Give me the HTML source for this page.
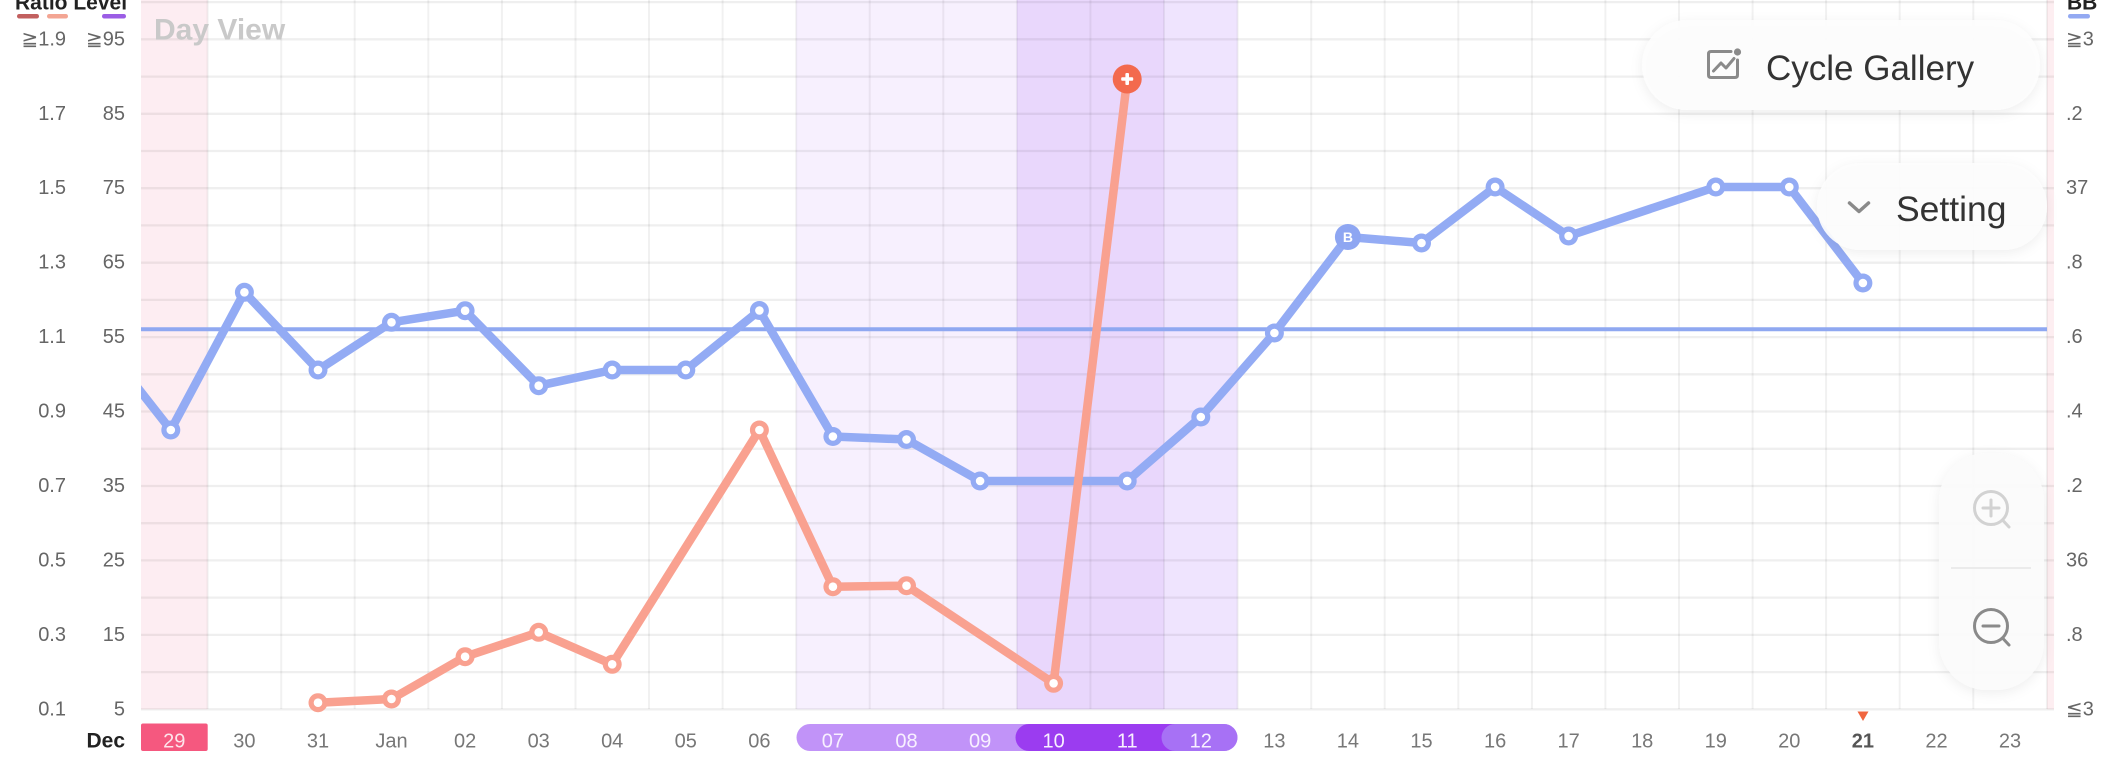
<!DOCTYPE html>
<html>
<head>
<meta charset="utf-8">
<style>
  html,body{margin:0;padding:0;background:#fff;}
  body{width:2101px;height:757px;overflow:hidden;}
  svg{display:block;}
  text{font-family:"Liberation Sans","DejaVu Sans",sans-serif;}
</style>
</head>
<body>
<svg width="2101" height="757" viewBox="0 0 2101 757" xmlns="http://www.w3.org/2000/svg">
  <defs>
    <clipPath id="plot"><rect x="141" y="0" width="1906" height="757"/></clipPath>
    <filter id="sh" x="-20%" y="-40%" width="140%" height="180%">
      <feDropShadow dx="0" dy="3" stdDeviation="6" flood-color="#000" flood-opacity="0.07"/>
    </filter>
  </defs>

  <rect x="0" y="0" width="2101" height="757" fill="#ffffff"/>

  <!-- bands -->
  <rect x="141" y="0" width="66.6" height="709.3" fill="#fdedf2"/>
  <rect x="2047" y="0" width="7" height="709.3" fill="#fdeef1"/>
  <rect x="796.2" y="0" width="220.7" height="709.3" fill="#f7f0fe"/>
  <rect x="1016.9" y="0" width="147.1" height="709.3" fill="#e9d7fc"/>
  <rect x="1164" y="0" width="73.6" height="709.3" fill="#efe4fe"/>

  <!-- vertical gridlines -->
  <g stroke="rgba(0,0,0,0.055)" stroke-width="2">
    <line x1="207.6" y1="0" x2="207.6" y2="709"/>
    <line x1="281.2" y1="0" x2="281.2" y2="709"/>
    <line x1="354.7" y1="0" x2="354.7" y2="709"/>
    <line x1="428.3" y1="0" x2="428.3" y2="709"/>
    <line x1="501.9" y1="0" x2="501.9" y2="709"/>
    <line x1="575.5" y1="0" x2="575.5" y2="709"/>
    <line x1="649.0" y1="0" x2="649.0" y2="709"/>
    <line x1="722.6" y1="0" x2="722.6" y2="709"/>
    <line x1="796.2" y1="0" x2="796.2" y2="709"/>
    <line x1="869.7" y1="0" x2="869.7" y2="709"/>
    <line x1="943.3" y1="0" x2="943.3" y2="709"/>
    <line x1="1016.9" y1="0" x2="1016.9" y2="709"/>
    <line x1="1090.4" y1="0" x2="1090.4" y2="709"/>
    <line x1="1164.0" y1="0" x2="1164.0" y2="709"/>
    <line x1="1237.6" y1="0" x2="1237.6" y2="709"/>
    <line x1="1311.2" y1="0" x2="1311.2" y2="709"/>
    <line x1="1384.7" y1="0" x2="1384.7" y2="709"/>
    <line x1="1458.3" y1="0" x2="1458.3" y2="709"/>
    <line x1="1531.9" y1="0" x2="1531.9" y2="709"/>
    <line x1="1605.4" y1="0" x2="1605.4" y2="709"/>
    <line x1="1679.0" y1="0" x2="1679.0" y2="709"/>
    <line x1="1752.6" y1="0" x2="1752.6" y2="709"/>
    <line x1="1826.1" y1="0" x2="1826.1" y2="709"/>
    <line x1="1899.7" y1="0" x2="1899.7" y2="709"/>
    <line x1="1973.3" y1="0" x2="1973.3" y2="709"/>
    <line x1="2046.9" y1="0" x2="2046.9" y2="709"/>
  </g>

  <!-- horizontal gridlines -->
  <g stroke="rgba(0,0,0,0.062)" stroke-width="2.3">
    <line x1="141" y1="709.3" x2="2054" y2="709.3"/>
    <line x1="141" y1="672.1" x2="2054" y2="672.1"/>
    <line x1="141" y1="634.9" x2="2054" y2="634.9"/>
    <line x1="141" y1="597.6" x2="2054" y2="597.6"/>
    <line x1="141" y1="560.4" x2="2054" y2="560.4"/>
    <line x1="141" y1="523.2" x2="2054" y2="523.2"/>
    <line x1="141" y1="486.0" x2="2054" y2="486.0"/>
    <line x1="141" y1="448.8" x2="2054" y2="448.8"/>
    <line x1="141" y1="411.5" x2="2054" y2="411.5"/>
    <line x1="141" y1="374.3" x2="2054" y2="374.3"/>
    <line x1="141" y1="337.1" x2="2054" y2="337.1"/>
    <line x1="141" y1="299.9" x2="2054" y2="299.9"/>
    <line x1="141" y1="262.7" x2="2054" y2="262.7"/>
    <line x1="141" y1="225.4" x2="2054" y2="225.4"/>
    <line x1="141" y1="188.2" x2="2054" y2="188.2"/>
    <line x1="141" y1="151.0" x2="2054" y2="151.0"/>
    <line x1="141" y1="113.8" x2="2054" y2="113.8"/>
    <line x1="141" y1="76.6" x2="2054" y2="76.6"/>
    <line x1="141" y1="39.3" x2="2054" y2="39.3"/>
    <line x1="141" y1="2.1" x2="2054" y2="2.1"/>
  </g>

  <!-- Day View -->
  <text x="154" y="39.5" font-size="30" font-weight="bold" fill="#c9c9c9">Day View</text>

  <!-- coverline -->
  <line x1="141" y1="329.3" x2="2047" y2="329.3" stroke="#8fa8f1" stroke-width="4"/>

  <!-- BBT line -->
  <g clip-path="url(#plot)">
    <polyline fill="none" stroke="#93abf4" stroke-width="8.5" stroke-linejoin="round" stroke-linecap="round"
      points="97,336 170.8,430 244.4,292.3 318,370 391.5,322.3 465.1,310.7 538.7,385.7 612.2,370 685.8,370 759.4,310.5 832.9,436.5 906.5,439.5 980.1,481 1053.6,481 1127.2,481 1200.8,417 1274.4,333 1347.9,237 1421.5,243 1495.1,187 1568.6,236 1715.8,187 1789.3,187 1862.9,283"/>
  </g>

  <!-- LH ratio line -->
  <polyline fill="none" stroke="#f9a190" stroke-width="8.5" stroke-linejoin="round" stroke-linecap="round"
    points="318,702.7 391.5,699 465.1,656.7 538.7,632.3 612.2,664.3 759.4,430 832.9,586.7 906.5,585.7 1053.6,683.3 1127.2,79"/>

  <!-- BBT markers -->
  <g fill="#93abf4">
    <circle cx="170.8" cy="430" r="9.5"/>
    <circle cx="244.4" cy="292.3" r="9.5"/>
    <circle cx="318" cy="370" r="9.5"/>
    <circle cx="391.5" cy="322.3" r="9.5"/>
    <circle cx="465.1" cy="310.7" r="9.5"/>
    <circle cx="538.7" cy="385.7" r="9.5"/>
    <circle cx="612.2" cy="370" r="9.5"/>
    <circle cx="685.8" cy="370" r="9.5"/>
    <circle cx="759.4" cy="310.5" r="9.5"/>
    <circle cx="832.9" cy="436.5" r="9.5"/>
    <circle cx="906.5" cy="439.5" r="9.5"/>
    <circle cx="980.1" cy="481" r="9.5"/>
    <circle cx="1127.2" cy="481" r="9.5"/>
    <circle cx="1200.8" cy="417" r="9.5"/>
    <circle cx="1274.4" cy="333" r="9.5"/>
    <circle cx="1421.5" cy="243" r="9.5"/>
    <circle cx="1495.1" cy="187" r="9.5"/>
    <circle cx="1568.6" cy="236" r="9.5"/>
    <circle cx="1715.8" cy="187" r="9.5"/>
    <circle cx="1789.3" cy="187" r="9.5"/>
    <circle cx="1862.9" cy="283" r="9.5"/>
  </g>
  <g fill="#ffffff">
    <circle cx="170.8" cy="430" r="4.3"/>
    <circle cx="244.4" cy="292.3" r="4.3"/>
    <circle cx="318" cy="370" r="4.3"/>
    <circle cx="391.5" cy="322.3" r="4.3"/>
    <circle cx="465.1" cy="310.7" r="4.3"/>
    <circle cx="538.7" cy="385.7" r="4.3"/>
    <circle cx="612.2" cy="370" r="4.3"/>
    <circle cx="685.8" cy="370" r="4.3"/>
    <circle cx="759.4" cy="310.5" r="4.3"/>
    <circle cx="832.9" cy="436.5" r="4.3"/>
    <circle cx="906.5" cy="439.5" r="4.3"/>
    <circle cx="980.1" cy="481" r="4.3"/>
    <circle cx="1127.2" cy="481" r="4.3"/>
    <circle cx="1200.8" cy="417" r="4.3"/>
    <circle cx="1274.4" cy="333" r="4.3"/>
    <circle cx="1421.5" cy="243" r="4.3"/>
    <circle cx="1495.1" cy="187" r="4.3"/>
    <circle cx="1568.6" cy="236" r="4.3"/>
    <circle cx="1715.8" cy="187" r="4.3"/>
    <circle cx="1789.3" cy="187" r="4.3"/>
    <circle cx="1862.9" cy="283" r="4.3"/>
  </g>
  <!-- B marker -->
  <circle cx="1347.9" cy="237" r="13" fill="#8ea6f2"/>
  <text x="1347.9" y="242" font-size="14" font-weight="bold" fill="#ffffff" text-anchor="middle">B</text>

  <!-- LH markers -->
  <g fill="#f9a190">
    <circle cx="318" cy="702.7" r="9.5"/>
    <circle cx="391.5" cy="699" r="9.5"/>
    <circle cx="465.1" cy="656.7" r="9.5"/>
    <circle cx="538.7" cy="632.3" r="9.5"/>
    <circle cx="612.2" cy="664.3" r="9.5"/>
    <circle cx="759.4" cy="430" r="9.5"/>
    <circle cx="832.9" cy="586.7" r="9.5"/>
    <circle cx="906.5" cy="585.7" r="9.5"/>
    <circle cx="1053.6" cy="683.3" r="9.5"/>
  </g>
  <g fill="#ffffff">
    <circle cx="318" cy="702.7" r="4.3"/>
    <circle cx="391.5" cy="699" r="4.3"/>
    <circle cx="465.1" cy="656.7" r="4.3"/>
    <circle cx="538.7" cy="632.3" r="4.3"/>
    <circle cx="612.2" cy="664.3" r="4.3"/>
    <circle cx="759.4" cy="430" r="4.3"/>
    <circle cx="832.9" cy="586.7" r="4.3"/>
    <circle cx="906.5" cy="585.7" r="4.3"/>
    <circle cx="1053.6" cy="683.3" r="4.3"/>
  </g>
  <!-- plus marker -->
  <circle cx="1127.2" cy="79" r="14.5" fill="#f36a4e"/>
  <rect x="1121.2" y="77.2" width="12" height="3.6" rx="1" fill="#ffffff"/>
  <rect x="1125.4" y="73" width="3.6" height="12" rx="1" fill="#ffffff"/>

  <!-- Left axis title / legend -->
  <text x="15" y="9.5" font-size="21" font-weight="bold" fill="#222">Ratio Level</text>
  <rect x="17" y="14" width="22" height="4.5" rx="2.2" fill="#c2605f"/>
  <rect x="47" y="14" width="21" height="4.5" rx="2.2" fill="#f3a593"/>
  <rect x="102" y="14" width="24" height="4.5" rx="2.2" fill="#9b5de5"/>

  <!-- left axis labels -->
  <g font-size="20" fill="#666" text-anchor="end" dominant-baseline="central">
    <text x="66" y="39.3">≧1.9</text><text x="125" y="39.3">≧95</text>
    <text x="66" y="113.8">1.7</text><text x="125" y="113.8">85</text>
    <text x="66" y="188.2">1.5</text><text x="125" y="188.2">75</text>
    <text x="66" y="262.7">1.3</text><text x="125" y="262.7">65</text>
    <text x="66" y="337.1">1.1</text><text x="125" y="337.1">55</text>
    <text x="66" y="411.5">0.9</text><text x="125" y="411.5">45</text>
    <text x="66" y="486.0">0.7</text><text x="125" y="486.0">35</text>
    <text x="66" y="560.4">0.5</text><text x="125" y="560.4">25</text>
    <text x="66" y="634.9">0.3</text><text x="125" y="634.9">15</text>
    <text x="66" y="709.3">0.1</text><text x="125" y="709.3">5</text>
  </g>

  <!-- right axis title / labels -->
  <text x="2067" y="9.5" font-size="21" font-weight="bold" fill="#222">BBT</text>
  <rect x="2068" y="14" width="22" height="4.5" rx="2.2" fill="#93a9f2"/>
  <g font-size="20" fill="#666" dominant-baseline="central">
    <text x="2066" y="39.3">≧3</text>
    <text x="2066" y="113.8">.2</text>
    <text x="2066" y="188.2">37</text>
    <text x="2066" y="262.7">.8</text>
    <text x="2066" y="337.1">.6</text>
    <text x="2066" y="411.5">.4</text>
    <text x="2066" y="486.0">.2</text>
    <text x="2066" y="560.4">36</text>
    <text x="2066" y="634.9">.8</text>
    <text x="2066" y="709.3">≦3</text>
  </g>

  <!-- x-axis highlight shapes -->
  <rect x="141" y="723.5" width="66.7" height="27.5" rx="2" fill="#f5587f"/>
  <rect x="796.5" y="724" width="441" height="27" rx="13.5" fill="#c193f8"/>
  <rect x="1015.5" y="724" width="175" height="27" rx="13.5" fill="#9b3cf0"/>
  <rect x="1161.5" y="724" width="76" height="27" rx="13.5" fill="#a771f5"/>
  <polygon points="1857.5,711.5 1868.5,711.5 1863,721" fill="#f0653f"/>

  <!-- x-axis labels -->
  <text x="125" y="747.5" font-size="21" font-weight="bold" fill="#222" text-anchor="end">Dec</text>
  <g font-size="20" fill="#777" text-anchor="middle">
    <text x="174.3" y="747.5" fill="#fde4eb">29</text>
    <text x="244.4" y="747.5">30</text>
    <text x="318" y="747.5">31</text>
    <text x="391.5" y="747.5">Jan</text>
    <text x="465.1" y="747.5">02</text>
    <text x="538.7" y="747.5">03</text>
    <text x="612.2" y="747.5">04</text>
    <text x="685.8" y="747.5">05</text>
    <text x="759.4" y="747.5">06</text>
    <text x="832.9" y="747.5" fill="#f8f0ff">07</text>
    <text x="906.5" y="747.5" fill="#f8f0ff">08</text>
    <text x="980.1" y="747.5" fill="#f8f0ff">09</text>
    <text x="1053.6" y="747.5" fill="#f8f0ff">10</text>
    <text x="1127.2" y="747.5" fill="#f8f0ff">11</text>
    <text x="1200.8" y="747.5" fill="#f8f0ff">12</text>
    <text x="1274.4" y="747.5">13</text>
    <text x="1347.9" y="747.5">14</text>
    <text x="1421.5" y="747.5">15</text>
    <text x="1495.1" y="747.5">16</text>
    <text x="1568.6" y="747.5">17</text>
    <text x="1642.2" y="747.5">18</text>
    <text x="1715.8" y="747.5">19</text>
    <text x="1789.3" y="747.5">20</text>
    <text x="1862.9" y="747.5" font-weight="bold" fill="#555">21</text>
    <text x="1936.5" y="747.5">22</text>
    <text x="2010" y="747.5">23</text>
  </g>

  <!-- Cycle Gallery button -->
  <rect x="1642" y="20" width="398" height="90" rx="45" fill="#fdfdfd" fill-opacity="0.96" filter="url(#sh)"/>
  <g fill="none" stroke="#8a8a8a" stroke-width="3" stroke-linejoin="round" stroke-linecap="round">
    <path d="M1731,51.5 L1711,51.5 Q1708.5,51.5 1708.5,54 L1708.5,75 Q1708.5,77.5 1711,77.5 L1735,77.5 Q1737.5,77.5 1737.5,75 L1737.5,60"/>
    <polyline points="1713.5,71 1721,63 1726,68 1734,58.5"/>
  </g>
  <circle cx="1737.5" cy="52" r="3.6" fill="#8a8a8a"/>
  <text x="1766" y="80" font-size="35" fill="#333">Cycle Gallery</text>

  <!-- Setting button -->
  <rect x="1817" y="163" width="230" height="87" rx="43.5" fill="#fdfdfd" fill-opacity="0.93" filter="url(#sh)"/>
  <polyline points="1849.5,203 1859,211.5 1868.5,203" fill="none" stroke="#8a8a8a" stroke-width="3.5" stroke-linecap="round" stroke-linejoin="round"/>
  <text x="1896" y="221" font-size="35.5" fill="#333">Setting</text>

  <!-- Zoom controls -->
  <rect x="1939" y="453" width="105" height="237" rx="48" fill="#fbfbfb" fill-opacity="0.95" filter="url(#sh)"/>
  <line x1="1951" y1="568" x2="2031" y2="568" stroke="#e6e6e6" stroke-width="1.5"/>
  <g fill="none" stroke="#d2d2d2" stroke-width="3" stroke-linecap="round">
    <circle cx="1991" cy="508" r="16.5"/>
    <line x1="2002.5" y1="520" x2="2009" y2="527"/>
    <line x1="1983" y1="508" x2="1999" y2="508"/>
    <line x1="1991" y1="500" x2="1991" y2="516"/>
  </g>
  <g fill="none" stroke="#8a8a8a" stroke-width="3" stroke-linecap="round">
    <circle cx="1991" cy="626" r="16.5"/>
    <line x1="2002.5" y1="638" x2="2009" y2="645"/>
    <line x1="1983" y1="626" x2="1999" y2="626"/>
  </g>
</svg>
</body>
</html>
